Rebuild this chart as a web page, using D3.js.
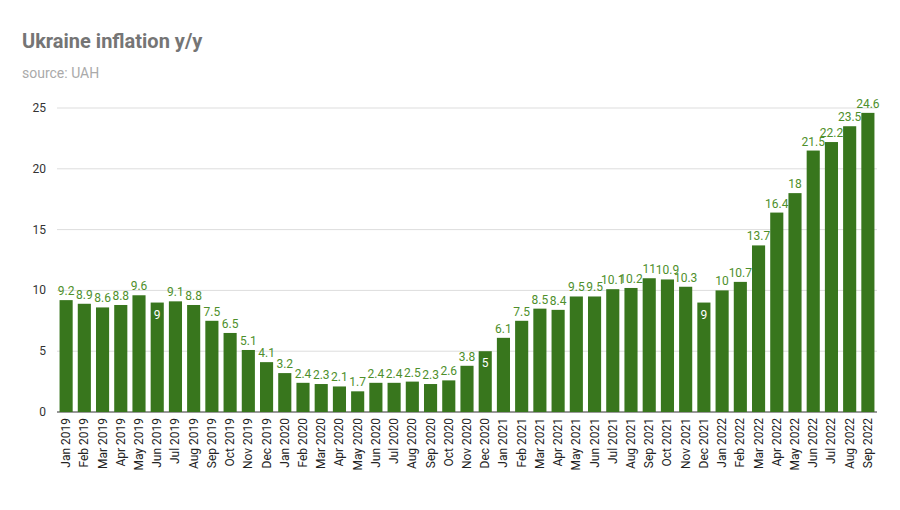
<!DOCTYPE html>
<html><head><meta charset="utf-8">
<script src="https://cdn.jsdelivr.net/npm/d3@7"></script>
<style>body{margin:0;background:#fff}text{font-family:Roboto,Arial,sans-serif}</style>
</head><body><svg id="c" width="900" height="510"></svg>
<script>
const years=["2019","2020","2021","2022"];
const monthNames=["Jan","Feb","Mar","Apr","May","Jun","Jul","Aug","Sep","Oct","Nov","Dec"];
const categories=[];
years.forEach(y=>monthNames.forEach(m=>{if(categories.length<45)categories.push(m+" "+y);}));
const values=[9.2,8.9,8.6,8.8,9.6,9,9.1,8.8,7.5,6.5,5.1,4.1,
3.2,2.4,2.3,2.1,1.7,2.4,2.4,2.5,2.3,2.6,3.8,5,
6.1,7.5,8.5,8.4,9.5,9.5,10.1,10.2,11,10.9,10.3,9,
10,10.7,13.7,16.4,18,21.5,22.2,23.5,24.6];
const insideLabels=["Jun 2019","Dec 2020","Dec 2021"];
const yTicks=[0,5,10,15,20,25];

const svg=d3.select("#c");
const x=d3.scaleBand().domain(categories).range([57,877]).paddingInner(0.28).paddingOuter(0.14);
const y=d3.scaleLinear().domain([0,25]).range([412,108]);

svg.append("text").attr("x",22).attr("y",48).attr("font-size",20).attr("font-weight","bold").attr("fill","#757575").text("Ukraine inflation y/y");
svg.append("text").attr("x",22).attr("y",78).attr("font-size",14).attr("fill","#aaaaaa").text("source: UAH");

const g=svg.append("g");
g.selectAll("line.grid").data(yTicks).join("line").attr("x1",57).attr("x2",877)
 .attr("y1",d=>y(d)).attr("y2",d=>y(d)).attr("stroke",d=>d===0?"#333":"#dddddd").attr("stroke-width",1);
g.selectAll("text.yt").data(yTicks).join("text").attr("x",46).attr("y",d=>y(d)+4).attr("text-anchor","end")
 .attr("font-size",12).attr("fill","#333").text(d=>d);

g.selectAll("rect").data(values).join("rect")
 .attr("x",(d,i)=>x(categories[i])).attr("width",x.bandwidth())
 .attr("y",d=>y(d)).attr("height",d=>y(0)-y(d)).attr("fill","#38761d");

g.selectAll("text.lab").data(values).join("text")
 .attr("x",(d,i)=>x(categories[i])+x.bandwidth()/2)
 .attr("y",(d,i)=>insideLabels.includes(categories[i])?y(d)+16:y(d)-5)
 .attr("text-anchor","middle").attr("font-size",12)
 .attr("fill",(d,i)=>insideLabels.includes(categories[i])?"#ffffff":"#4e8f2b")
 .text(d=>d);

g.selectAll("text.xl").data(categories).join("text")
 .attr("transform",d=>`translate(${x(d)+x.bandwidth()/2+4},418) rotate(-90)`)
 .attr("text-anchor","end").attr("font-size",12).attr("fill","#222").text(d=>d);
</script></body></html>
